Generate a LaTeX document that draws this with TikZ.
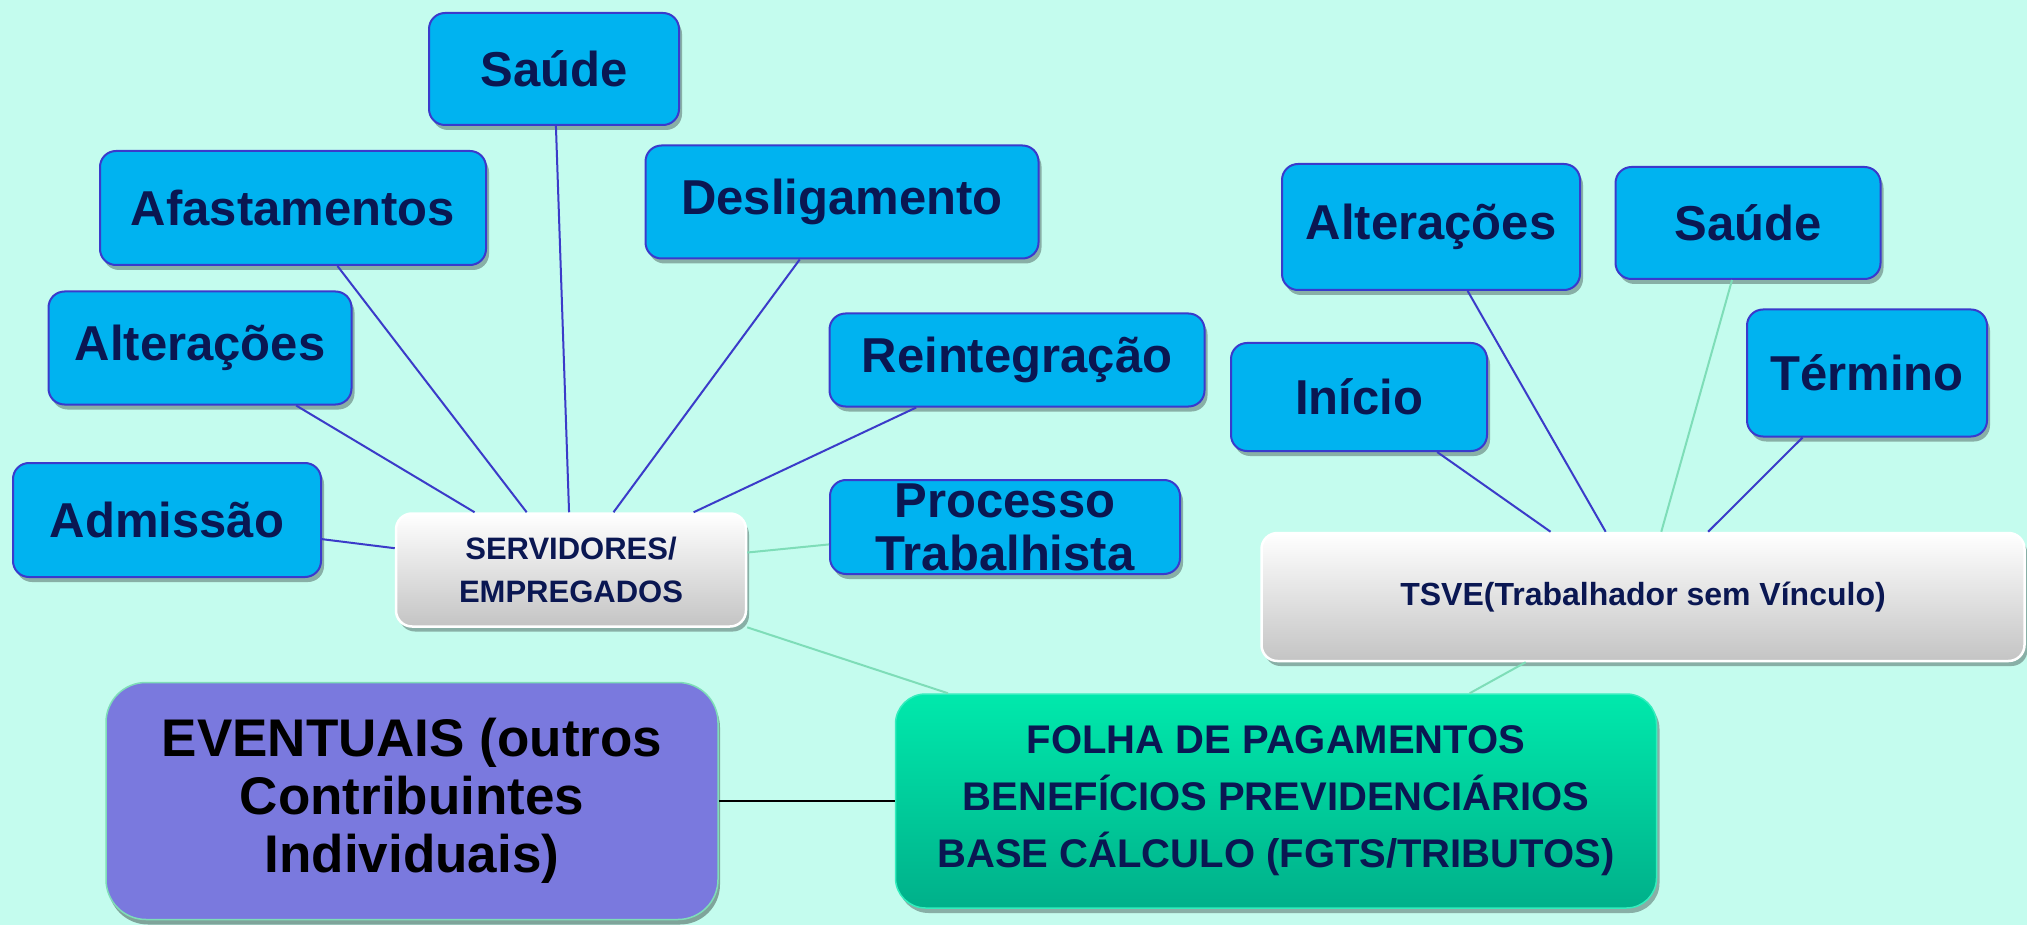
\documentclass[tikz,border=0pt]{standalone}
\usepackage{fontspec}
\setmainfont{Liberation Sans}
\usetikzlibrary{shadows}
\definecolor{bg}{HTML}{C4FCEE}
\definecolor{boxblue}{HTML}{00B3F0}
\definecolor{boxedge}{HTML}{3A3ACC}
\definecolor{navy}{HTML}{0A1752}
\definecolor{linkblue}{HTML}{3B3BC9}
\definecolor{linkgreen}{HTML}{7EDDB8}
\definecolor{folhatop}{HTML}{00E9AC}
\definecolor{folhabot}{HTML}{00B08A}
\definecolor{eventfill}{HTML}{7A79DE}
\definecolor{hubbot}{HTML}{C4C4C4}
\tikzset{
  myshadow/.style={drop shadow={shadow xshift=3pt, shadow yshift=-5pt, opacity=0.3, fill=black}},
  leaf/.style={draw=boxedge, line width=2pt, fill=boxblue, rounded corners=16pt,
    text=navy, font=\fontsize{49}{53}\selectfont\bfseries, align=center, inner sep=0pt, myshadow},
  hub/.style={draw=white, line width=2.5pt, top color=white, bottom color=hubbot, rounded corners=16pt,
    text=navy, align=center, inner sep=0pt, myshadow},
  blueline/.style={draw=linkblue, line width=2pt},
  greenline/.style={draw=linkgreen, line width=2pt},
}
\begin{document}
\begin{tikzpicture}[x=1pt,y=-1pt]
\fill[bg] (0,0) rectangle (2027,925);
\useasboundingbox (0,0) rectangle (2027,925);

% left hub and leaves
\node[leaf, minimum width=250, minimum height=112] (sal) at (554,69) {Saúde};
\node[leaf, minimum width=386, minimum height=114] (afa) at (293,208) {Afastamentos};
\node[leaf, minimum width=393, minimum height=113] (des) at (842,202) {Desligamento};
\node[leaf, minimum width=303, minimum height=113] (alL) at (200,348) {Alterações};
\node[leaf, minimum width=375, minimum height=93] (rei) at (1017,360) {Reintegração};
\node[leaf, minimum width=308, minimum height=114] (adm) at (167,520) {Admissão};
\node[leaf, minimum width=350, minimum height=94] (pro) at (1005,527) {Processo\\Trabalhista};
\node[hub, minimum width=350, minimum height=113, font=\fontsize{31}{43}\selectfont\bfseries] (serv) at (571,570) {SERVIDORES/\\EMPREGADOS};

% right hub and leaves
\node[leaf, minimum width=298, minimum height=126] (alR) at (1431,227) {Alterações};
\node[leaf, minimum width=265, minimum height=112] (saR) at (1748,223) {Saúde};
\node[leaf, minimum width=256, minimum height=108] (ini) at (1359,397) {Início};
\node[leaf, minimum width=240, minimum height=127] (ter) at (1867,373) {Término};
\node[hub, minimum width=763, minimum height=128, font=\fontsize{32}{36}\selectfont\bfseries] (tsve) at (1643,597) {\raisebox{-5pt}{TSVE(Trabalhador sem Vínculo)}};

% bottom
\node[draw=linkgreen, line width=1.5pt, fill=eventfill, rounded corners=40pt, minimum width=612, minimum height=237,
  font=\fontsize{53}{58}\selectfont\bfseries, text=black, align=center, inner sep=0pt,
  drop shadow={shadow xshift=2pt, shadow yshift=-5pt, opacity=0.35, fill=black}] (evt) at (412,801)
  {EVENTUAIS (outros\\Contribuintes\\Individuais)};
\node[draw=folhatop!80!white, line width=1.5pt, top color=folhatop, bottom color=folhabot, rounded corners=30pt,
  minimum width=761, minimum height=214, font=\fontsize{40}{57}\selectfont\bfseries, text=navy, align=center,
  inner sep=0pt, myshadow] (fol) at (1276,801)
  {FOLHA DE PAGAMENTOS\\BENEFÍCIOS PREVIDENCIÁRIOS\\BASE CÁLCULO (FGTS/TRIBUTOS)};

% connectors
\draw[blueline] (sal) -- (serv);
\draw[blueline] (afa) -- (serv);
\draw[blueline] (alL) -- (serv);
\draw[blueline] (adm) -- (serv);
\draw[blueline] (des) -- (serv);
\draw[blueline] (rei) -- (serv);
\draw[greenline] (pro) -- (serv);
\draw[greenline] (serv) -- (fol);
\draw[greenline] (tsve) -- (fol);
\draw[black, line width=2pt] (evt) -- (fol);
\draw[blueline] (ini) -- (tsve);
\draw[blueline] (alR) -- (tsve);
\draw[greenline] (saR) -- (tsve);
\draw[blueline] (ter) -- (tsve);
\end{tikzpicture}
\end{document}
